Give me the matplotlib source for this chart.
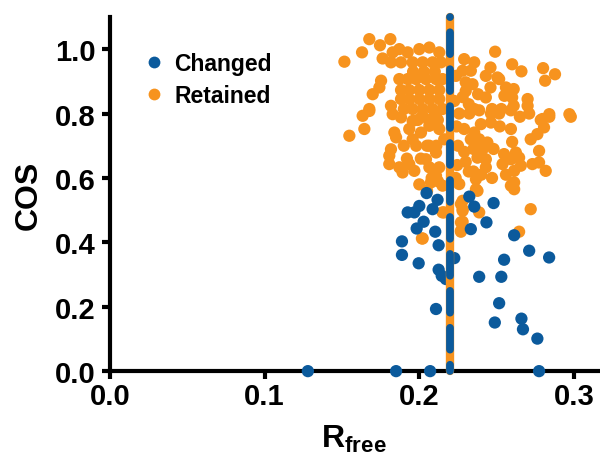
import matplotlib
matplotlib.use("Agg")
import matplotlib.pyplot as plt
from matplotlib.lines import Line2D

plt.rcParams['font.family'] = ['Liberation Sans', 'DejaVu Sans']
plt.rcParams['font.weight'] = 'bold'
plt.rcParams['mathtext.fontset'] = 'custom'
plt.rcParams['mathtext.rm'] = 'Liberation Sans:bold'
plt.rcParams['mathtext.bf'] = 'Liberation Sans:bold'

BLUE = '#0b5a9c'
ORANGE = '#f7931e'

# Structures whose model changed
changed_rfree = [0.2047, 0.2118, 0.2323, 0.2355, 0.2000, 0.1968, 0.1925, 0.2086,
                 0.2480, 0.2028, 0.1983, 0.2103, 0.2333, 0.2434, 0.1888, 0.2125,
                 0.2613, 0.1888, 0.2226, 0.2710, 0.2839, 0.1996, 0.2548, 0.2125,
                 0.2145, 0.2172, 0.2387, 0.2530, 0.2516, 0.2108, 0.2660, 0.2670,
                 0.2488, 0.2763, 0.1280, 0.1850, 0.2070, 0.2774]
changed_cos = [0.553, 0.532, 0.542, 0.511, 0.513, 0.493, 0.493, 0.503,
               0.522, 0.464, 0.443, 0.433, 0.441, 0.462, 0.403, 0.391,
               0.422, 0.361, 0.351, 0.374, 0.353, 0.335, 0.346, 0.315,
               0.296, 0.286, 0.293, 0.293, 0.211, 0.193, 0.163, 0.130,
               0.151, 0.101, 0.000, 0.000, 0.000, 0.000]

# Structures whose model was retained
retained_rfree = [
    0.1516, 0.1630, 0.1677, 0.1746, 0.1813, 0.1763,
    0.1828, 0.1871, 0.1925, 0.2000, 0.2065, 0.2129,
    0.1817, 0.1882, 0.1957, 0.2022, 0.2086, 0.2140,
    0.1753, 0.1742, 0.1699, 0.1677, 0.1817,
    0.1871, 0.1925, 0.1979, 0.2043, 0.2108, 0.2150,
    0.1882, 0.1935, 0.2000, 0.2065, 0.2129,
    0.1882, 0.1935, 0.2000, 0.2065, 0.2129,
    0.1900, 0.1957, 0.2022, 0.2086, 0.2150,
    0.2490, 0.2600, 0.2660, 0.2800, 0.2877, 0.2813,
    0.2290, 0.2355, 0.2280, 0.2333, 0.2300, 0.2344,
    0.2460, 0.2430, 0.2505, 0.2460, 0.2516,
    0.2560, 0.2610, 0.2550, 0.2600, 0.2610, 0.2700, 0.2700,
    0.2470, 0.2530, 0.2840, 0.2970, 0.2280, 0.2320, 0.2355,
    0.1634, 0.1677, 0.1645, 0.1548,
    0.1828, 0.1882, 0.1839, 0.1850,
    0.1817, 0.1806, 0.1806, 0.1871, 0.1935, 0.1968, 0.1892,
    0.1935, 0.1957, 0.2011, 0.2065, 0.2108, 0.2021, 0.1957,
    0.2065, 0.2108, 0.2043, 0.2065, 0.2129, 0.2108, 0.2075, 0.2150,
    0.2129, 0.2161,
    0.2258, 0.2323, 0.2387, 0.2463, 0.2516, 0.2592, 0.2710, 0.2840, 0.2979, 0.2785,
    0.2290, 0.2355, 0.2398, 0.2463, 0.2333, 0.2387, 0.2440,
    0.2592, 0.2600, 0.2720, 0.2763, 0.2806, 0.2796,
    0.2290, 0.2376, 0.2430, 0.2409,
    0.2548, 0.2592, 0.2645, 0.2624, 0.2656, 0.2613, 0.2538,
    0.2731, 0.2774, 0.2774, 0.2817, 0.2430,
    0.2613, 0.2592, 0.2366, 0.2366, 0.2258,
    0.2022, 0.2150, 0.2376, 0.2613,
    0.2280, 0.2280, 0.2387, 0.2280, 0.2269, 0.2645, 0.2720,
    0.2269, 0.2280, 0.2269, 0.2269, 0.2160, 0.2017, 0.2602,
    0.2237, 0.2226, 0.2240, 0.2250, 0.2245, 0.2235,
    0.1960, 0.2030, 0.2100, 0.1990, 0.2060, 0.2120,
    0.1900, 0.1980, 0.2050, 0.2110, 0.1920, 0.2010,
    0.2300, 0.2380, 0.2430, 0.2350, 0.2420, 0.2480,
    0.2320, 0.2400, 0.2470, 0.2560, 0.2520, 0.2650,
    0.2080, 0.2000, 0.2120, 0.2050, 0.2300, 0.2350,
]
retained_cos = [
    0.961, 0.990, 1.031, 1.012, 1.031, 0.971,
    0.990, 1.000, 0.990, 1.000, 1.005, 0.990,
    0.959, 0.959, 0.959, 0.959, 0.959, 0.959,
    0.902, 0.881, 0.860, 0.814, 0.824,
    0.907, 0.907, 0.907, 0.907, 0.907, 0.907,
    0.873, 0.873, 0.873, 0.873, 0.873,
    0.845, 0.845, 0.845, 0.845, 0.845,
    0.814, 0.814, 0.814, 0.814, 0.814,
    0.992, 0.953, 0.931, 0.941, 0.922, 0.902,
    0.969, 0.959, 0.933, 0.933, 0.897, 0.891,
    0.943, 0.917, 0.912, 0.881, 0.907,
    0.881, 0.876, 0.855, 0.850, 0.824, 0.845, 0.824,
    0.814, 0.814, 0.798, 0.798, 0.851, 0.829, 0.814,
    0.793, 0.808, 0.752, 0.731,
    0.798, 0.788, 0.741, 0.726,
    0.689, 0.669, 0.643, 0.633, 0.643, 0.622, 0.617,
    0.752, 0.720, 0.741, 0.762, 0.793, 0.793, 0.777,
    0.700, 0.679, 0.658, 0.633, 0.633, 0.607, 0.586, 0.576,
    0.752, 0.720,
    0.800, 0.800, 0.810, 0.800, 0.800, 0.810, 0.800, 0.790, 0.790, 0.780,
    0.752, 0.741, 0.767, 0.772, 0.720, 0.720, 0.710,
    0.752, 0.712, 0.720, 0.736, 0.757, 0.783,
    0.681, 0.663, 0.658, 0.689,
    0.674, 0.658, 0.663, 0.679, 0.638, 0.622, 0.643,
    0.643, 0.648, 0.684, 0.622, 0.633,
    0.586, 0.576, 0.596, 0.565, 0.581,
    0.412, 0.493, 0.560, 0.565,
    0.529, 0.503, 0.493, 0.464, 0.433, 0.433, 0.503,
    0.519, 0.498, 0.462, 0.436, 0.493, 0.412, 0.581,
    0.917, 0.839, 0.760, 0.700, 0.640, 0.600,
    0.930, 0.930, 0.930, 0.780, 0.780, 0.780,
    0.700, 0.700, 0.700, 0.700, 0.660, 0.660,
    0.870, 0.860, 0.850, 0.690, 0.700, 0.690,
    0.620, 0.610, 0.600, 0.610, 0.760, 0.790,
    0.600, 0.580, 0.590, 0.560, 0.650, 0.620,
]

# Structures sitting at the R_free cut-off
rfree_cut = [0.22, 0.22]
cut_cos = [0.0, 1.1]

x_ticks = [0.0, 0.1, 0.2, 0.3]
y_ticks = [0.0, 0.2, 0.4, 0.6, 0.8, 1.0]

fig = plt.figure(figsize=(6.0, 4.6), dpi=100)
ax = fig.add_axes([0.183, 0.191, 0.815, 0.770])

ax.scatter(retained_rfree, retained_cos, s=78, color=ORANGE, edgecolors='none',
           zorder=2, clip_on=False)
ax.scatter(changed_rfree, changed_cos, s=78, color=BLUE, edgecolors='none',
           zorder=3, clip_on=False)
ax.plot(rfree_cut, cut_cos, color=ORANGE, lw=6.0, solid_capstyle='round',
        zorder=4, clip_on=False)
ax.plot(rfree_cut, cut_cos, color=BLUE, lw=5.6, dash_capstyle='round',
        linestyle=(2.0, (2.8, 1.95)), zorder=5, clip_on=False)

ax.set_xlim(0, 0.316)
ax.set_ylim(0, 1.1)
ax.set_xticks(x_ticks)
ax.set_yticks(y_ticks)
ax.set_xticklabels([f'{v:.1f}' for v in x_ticks])
ax.set_yticklabels([f'{v:.1f}' for v in y_ticks])

for side in ('top', 'right'):
    ax.spines[side].set_visible(False)
for side in ('left', 'bottom'):
    ax.spines[side].set_linewidth(3)
ax.tick_params(axis='both', width=3, length=6, labelsize=21)
ax.tick_params(axis='x', pad=2)
ax.tick_params(axis='y', pad=4)
for lab in ax.get_xticklabels() + ax.get_yticklabels():
    lab.set_fontweight('bold')

ax.set_ylabel('COS', fontsize=23, fontweight='bold', labelpad=8)
ax.set_xlabel(r'$\mathbf{R}_{\mathbf{free}}$', fontsize=23, labelpad=9)

handles = [
    Line2D([], [], marker='o', linestyle='none', color=BLUE, markersize=8.5,
           markeredgewidth=0, label='Changed'),
    Line2D([], [], marker='o', linestyle='none', color=ORANGE, markersize=8.5,
           markeredgewidth=0, label='Retained'),
]
leg = ax.legend(handles=handles, loc='upper left', bbox_to_anchor=(0.02, 0.96),
                frameon=False, handletextpad=0.3, labelspacing=0.42,
                prop={'size': 16.5, 'weight': 'bold'}, handlelength=1.2)

fig.savefig('out.png', dpi=100)
